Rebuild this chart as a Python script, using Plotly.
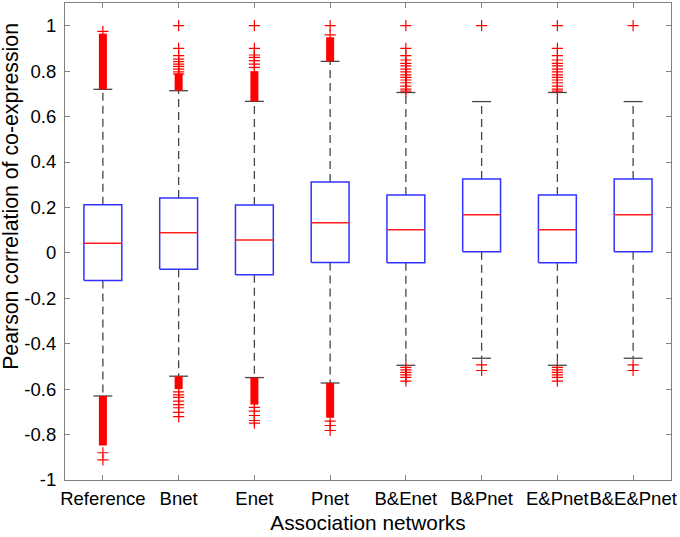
import plotly.graph_objects as go

categories = ["Reference", "Bnet", "Enet", "Pnet", "B&Enet", "B&Pnet", "E&Pnet", "B&E&Pnet"]
q1 = [-0.122, -0.072, -0.096, -0.042, -0.044, 0.005, -0.044, 0.005]
medians = [0.042, 0.088, 0.057, 0.133, 0.102, 0.168, 0.102, 0.168]
q3 = [0.212, 0.242, 0.211, 0.312, 0.255, 0.325, 0.255, 0.325]
whisker_low = [-0.630, -0.543, -0.549, -0.573, -0.495, -0.464, -0.495, -0.464]
whisker_high = [0.720, 0.714, 0.667, 0.843, 0.706, 0.666, 0.706, 0.666]

# dense (overlapping) outlier ranges, read as [from, to]; None if absent
dense_upper = [[0.720, 0.965], [0.714, 0.790], [0.667, 0.800], [0.843, 0.949], None, None, None, None]
dense_lower = [[-0.848, -0.630], [-0.600, -0.543], [-0.668, -0.549], [-0.726, -0.573], None, None, None, None]

# individually visible outliers
sparse_upper = [
    [0.975],
    [0.787, 0.797, 0.809, 0.821, 0.831, 0.842, 0.853, 0.868, 0.900, 1.0],
    [0.817, 0.831, 0.846, 0.861, 0.871, 0.900, 1.0],
    [0.960, 1.0],
    [0.712, 0.721, 0.734, 0.749, 0.761, 0.773, 0.784, 0.797, 0.809, 0.823, 0.834, 0.849, 0.868, 0.900, 1.0],
    [1.0],
    [0.712, 0.721, 0.734, 0.749, 0.761, 0.773, 0.784, 0.797, 0.809, 0.823, 0.834, 0.849, 0.868, 0.900, 1.0],
    [1.0],
]
sparse_lower = [
    [-0.880, -0.911],
    [-0.612, -0.625, -0.636, -0.653, -0.668, -0.682, -0.702, -0.721],
    [-0.680, -0.697, -0.716, -0.738, -0.750],
    [-0.741, -0.760, -0.782],
    [-0.504, -0.515, -0.526, -0.537, -0.548, -0.565],
    [-0.493, -0.518],
    [-0.504, -0.515, -0.526, -0.537, -0.548, -0.565],
    [-0.493, -0.518],
]

ytick_vals = [-1, -0.8, -0.6, -0.4, -0.2, 0, 0.2, 0.4, 0.6, 0.8, 1]
ytick_text = ["-1", "-0.8", "-0.6", "-0.4", "-0.2", "0", "0.2", "0.4", "0.6", "0.8", "1"]

BOX_HALF = 0.25
CAP_HALF = 0.125
BLUE = "rgb(50,50,255)"
RED = "rgb(255,30,30)"
WHISK = "rgb(70,70,70)"
FONT = "Liberation Sans, Arial, sans-serif"

fig = go.Figure()

for i, name in enumerate(categories):
    x = i + 1
    # whiskers (dashed)
    fig.add_trace(go.Scatter(x=[x, x, None, x, x],
                             y=[q3[i], whisker_high[i], None, q1[i], whisker_low[i]],
                             mode="lines", line=dict(color=WHISK, width=1.3, dash="8px,5px"),
                             hoverinfo="skip", showlegend=False))
    # caps
    fig.add_trace(go.Scatter(x=[x - CAP_HALF, x + CAP_HALF, None, x - CAP_HALF, x + CAP_HALF],
                             y=[whisker_high[i], whisker_high[i], None, whisker_low[i], whisker_low[i]],
                             mode="lines", line=dict(color=WHISK, width=1.3),
                             hoverinfo="skip", showlegend=False))
    # box
    fig.add_trace(go.Scatter(x=[x - BOX_HALF, x + BOX_HALF, x + BOX_HALF, x - BOX_HALF, x - BOX_HALF],
                             y=[q1[i], q1[i], q3[i], q3[i], q1[i]],
                             mode="lines", line=dict(color=BLUE, width=1.5),
                             hoverinfo="skip", showlegend=False))
    # median
    fig.add_trace(go.Scatter(x=[x - BOX_HALF, x + BOX_HALF], y=[medians[i], medians[i]],
                             mode="lines", line=dict(color=RED, width=1.5),
                             hoverinfo="skip", showlegend=False))
    # dense outlier bands
    for band in (dense_upper[i], dense_lower[i]):
        if band is not None:
            fig.add_trace(go.Scatter(x=[x, x], y=band, mode="lines",
                                     line=dict(color="red", width=8),
                                     hoverinfo="skip", showlegend=False))
    # sparse outliers
    pts = sparse_upper[i] + sparse_lower[i]
    fig.add_trace(go.Scatter(x=[x] * len(pts), y=pts, mode="markers",
                             marker=dict(symbol="cross-thin", size=8, color="red",
                                         line=dict(color="red", width=1.2)),
                             hoverinfo="skip", showlegend=False))

axis_common = dict(showline=True, linecolor="rgb(128,128,128)", linewidth=1.2, mirror="allticks",
                   ticks="inside", ticklen=5, tickcolor="rgb(128,128,128)", tickwidth=1,
                   showgrid=False, zeroline=False, automargin=False,
                   tickfont=dict(family=FONT, size=18.5, color="black"))

fig.update_xaxes(range=[0.5, 8.5], tickmode="array", tickvals=list(range(1, len(categories) + 1)),
                 ticktext=categories, ticklabelstandoff=2, tickangle=0,
                 title=dict(text="Association networks", font=dict(family=FONT, size=20.8, color="black"),
                            standoff=7),
                 **axis_common)
fig.update_yaxes(range=[-1, 1.1], tickmode="array", tickvals=ytick_vals, ticktext=ytick_text,
                 ticklabelstandoff=4, **axis_common)

fig.add_annotation(text="Pearson correlation of co-expression", xref="paper", yref="paper",
                   x=-0.088, y=0.595, xanchor="center", yanchor="middle", textangle=-90,
                   showarrow=False, font=dict(family=FONT, size=21.3, color="black"))

fig.update_layout(width=680, height=537, margin=dict(l=65, r=9, t=3, b=57, autoexpand=False),
                  plot_bgcolor="white", paper_bgcolor="white", showlegend=False)

fig.write_html("out.html", config={"displayModeBar": False},
               post_script="document.body.style.margin='0';document.body.style.overflow='hidden';")
